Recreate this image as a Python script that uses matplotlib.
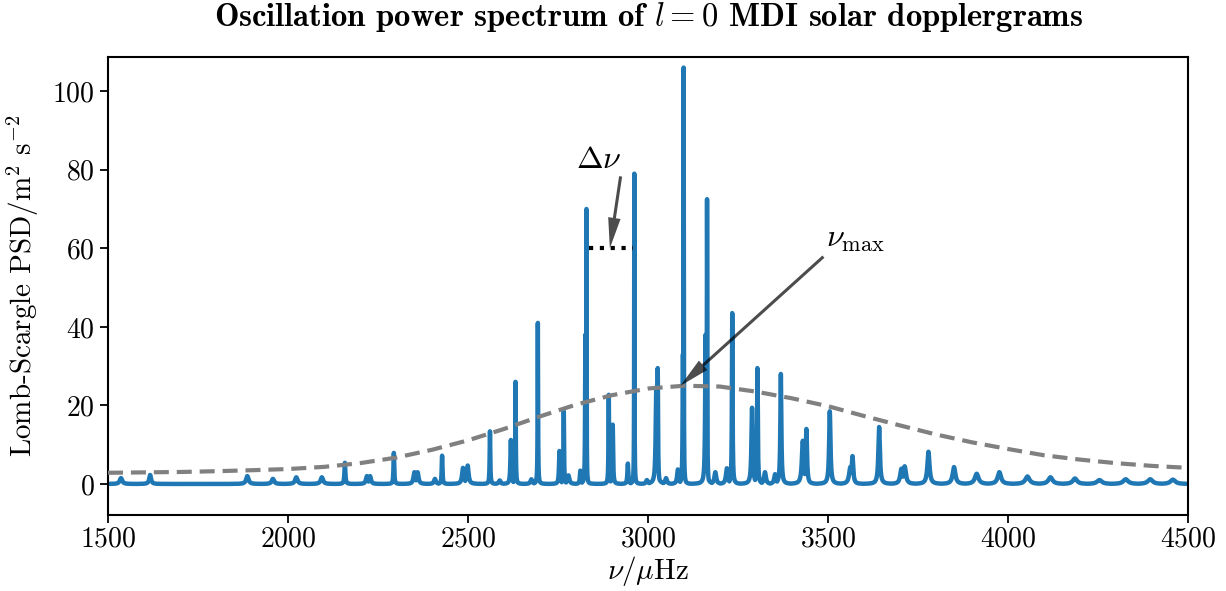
import numpy as np
import matplotlib
matplotlib.use("Agg")
import matplotlib.pyplot as plt

plt.rcParams['font.family'] = 'serif'
plt.rcParams['font.serif'] = ['cmr10', 'DejaVu Serif']
plt.rcParams['mathtext.fontset'] = 'cm'
plt.rcParams['axes.unicode_minus'] = False
plt.rcParams['axes.formatter.use_mathtext'] = True

# ---- data ----
peak_freq = [1536, 1617, 1887, 1958, 2023, 2094, 2158, 2219, 2228, 2294, 2351, 2360,
             2408, 2428, 2486, 2499, 2561, 2588, 2619, 2632, 2676, 2694, 2754, 2766,
             2779, 2812, 2826, 2829, 2891, 2902, 2944, 2962, 2997, 3023, 3027, 3050,
             3083, 3097, 3099, 3160, 3164, 3187, 3219, 3234, 3289, 3304, 3325, 3353,
             3369, 3430, 3440, 3505, 3562, 3568, 3642, 3704, 3713, 3779, 3850, 3913,
             3976, 4054, 4118, 4186, 4254, 4327, 4395, 4458]
peak_height = [1.5, 2.3, 2.0, 1.3, 1.7, 1.7, 5.4, 2.0, 2.0, 7.9, 3.0, 3.0,
               1.3, 7.2, 4.1, 4.7, 13.4, 0.9, 11.2, 26.0, 1.2, 41.0, 8.4, 18.5,
               2.2, 3.4, 38.0, 70.0, 22.7, 15.1, 5.2, 79.0, 1.0, 24.0, 29.5, 1.5,
               3.7, 33.0, 106.0, 38.0, 72.5, 3.0, 4.0, 43.5, 19.4, 29.5, 3.0, 2.5,
               28.0, 11.0, 14.0, 18.5, 4.3, 7.1, 14.5, 3.9, 4.5, 8.2, 4.3, 2.6,
               3.0, 1.9, 1.7, 1.4, 1.0, 1.2, 1.2, 1.1]
peak_width = [4.0, 3.0, 4.0, 4.0, 4.0, 4.0, 1.5, 3.0, 3.0, 1.2, 3.0, 3.0,
              3.0, 1.2, 3.0, 3.0, 1.0, 3.0, 1.5, 0.8, 3.0, 0.7, 1.5, 0.9,
              3.0, 1.5, 0.9, 0.5, 0.9, 1.2, 1.5, 0.5, 3.0, 2.0, 1.0, 3.0,
              2.5, 1.0, 0.5, 1.5, 0.6, 3.0, 3.0, 1.0, 2.0, 1.2, 3.0, 3.0,
              1.6, 3.0, 2.0, 2.2, 4.0, 2.5, 2.5, 4.0, 4.0, 3.5, 4.5, 6.0,
              5.5, 7.0, 7.0, 7.0, 8.0, 8.0, 8.0, 8.0]

env_freq = [1500, 1600, 1700, 1800, 1900, 2000, 2100, 2200, 2300, 2400, 2500,
            2600, 2700, 2800, 2900, 3000, 3100, 3200, 3300, 3400, 3500,
            3600, 3700, 3800, 3900, 4000, 4100, 4200, 4300, 4400, 4500]
env_power = [2.85, 2.95, 3.05, 3.25, 3.5, 3.8, 4.35, 5.3, 6.7, 8.7, 11.1,
             14.0, 17.2, 20.2, 22.6, 24.3, 25.0, 24.8, 23.5, 21.8, 19.8,
             17.3, 14.9, 12.6, 10.6, 8.9, 7.3, 6.2, 5.3, 4.6, 4.1]

numax = 3090
numax_power = 25.0
dnu_start = 2837
dnu_end = 2957
dnu_level = 60

# ---- build the spectrum curve from the peak table (upper envelope of profiles) ----
freq = np.arange(1500, 4500.25, 0.25)
psd = np.zeros_like(freq)
for f0, h, w in zip(peak_freq, peak_height, peak_width):
    psd = np.maximum(psd, h / (1.0 + ((freq - f0) / w) ** 2))

fig = plt.figure(figsize=(12.26, 5.91), dpi=100)
ax = fig.add_axes([0.0881, 0.1286, 0.8809, 0.775])

ax.plot(freq, psd, color='#1f77b4', lw=3.2, solid_joinstyle='round', zorder=2)
ax.plot(env_freq, env_power, color='gray', lw=3, dashes=(3.6, 1.9), zorder=3)
ax.plot([dnu_start, dnu_end], [dnu_level, dnu_level], color='k', lw=3,
        linestyle=(0, (1, 1.6)), zorder=4)

arrow_kw = dict(facecolor='k', edgecolor='none', alpha=0.7,
                width=2.2, headwidth=9, headlength=22, shrink=0.0)
ax.annotate(r'$\Delta\nu$', xy=(2894, dnu_level), xytext=(2862, 82.5),
            fontsize=23, ha='center', va='center',
            arrowprops=arrow_kw)
ax.annotate(r'$\nu_\mathrm{max}$', xy=(numax, numax_power), xytext=(3495, 62),
            fontsize=23, ha='left', va='center',
            arrowprops=dict(arrow_kw))

ax.set_xlim(1500, 4500)
ax.set_ylim(-7.9, 108.7)
ax.set_xticks([1500, 2000, 2500, 3000, 3500, 4000, 4500])
ax.set_yticks([0, 20, 40, 60, 80, 100])
ax.tick_params(labelsize=20, length=6, width=1.3, direction='out')
ax.tick_params(axis='x', pad=2)
for s in ax.spines.values():
    s.set_linewidth(1.5)

ax.set_xlabel(r'$\nu/\mu\mathrm{Hz}$', fontsize=21, labelpad=1)
ax.set_ylabel(r'Lomb-Scargle PSD$/\mathrm{m}^2\ \mathrm{s}^{-2}$', fontsize=21, labelpad=8)
ax.set_title(r'Oscillation power spectrum of $l=0$ MDI solar dopplergrams',
             fontsize=23.5, fontfamily='cmb10', pad=22)

fig.savefig('out.png', dpi=100)
